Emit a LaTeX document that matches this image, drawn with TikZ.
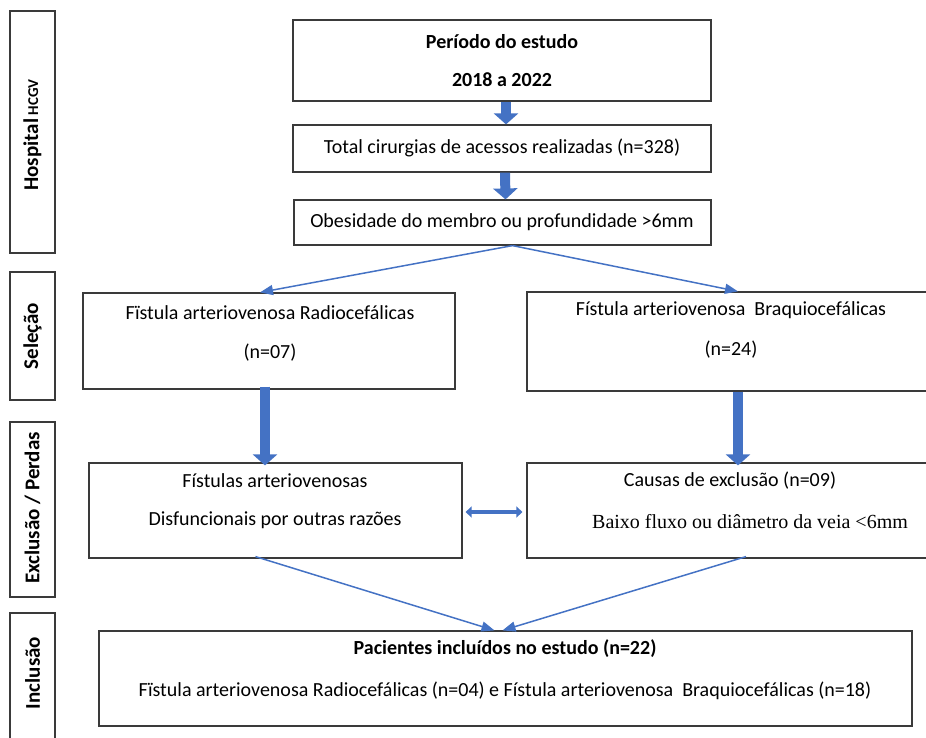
\documentclass[tikz,border=0pt]{standalone}
\usepackage{fontspec}
\setmainfont{Carlito}
\newfontfamily\serifb{Liberation Serif}
\usetikzlibrary{arrows.meta,calc}
\definecolor{abl}{HTML}{4472C4}
\definecolor{bdr}{HTML}{3A3A3A}
\tikzset{
  box/.style={draw=bdr,line width=1.2pt,inner sep=0pt,fill=white},
  side/.style={box},
  txt/.style={font=\fontsize{20}{24}\selectfont,inner sep=0pt},
  btxt/.style={font=\fontsize{20}{24}\selectfont\bfseries,inner sep=0pt},
  sidetxt/.style={font=\fontsize{21}{25}\selectfont\bfseries,rotate=90,inner sep=0pt},
  blockarr/.style={draw=abl,line width=10pt,-{Triangle[width=24pt,length=11pt]}},
  dblarr/.style={draw=abl,line width=4pt,{Triangle[width=11pt,length=6pt]}-{Triangle[width=11pt,length=6pt]}},
  thinarr/.style={draw=abl,line width=1.5pt,-{Triangle[width=10pt,length=13pt]}}
}
\begin{document}
\begin{tikzpicture}[x=1pt,y=-1pt]
\useasboundingbox (0,0) rectangle (926,737);
\clip (0,0) rectangle (926,737);
% side labels
\node[side,minimum width=45pt,minimum height=242pt] (hosp) at (32.5,132) {};
\node[side,minimum width=45pt,minimum height=128pt] (sel) at (32.5,336) {};
\node[side,minimum width=45pt,minimum height=175pt] (excl) at (32.5,509.5) {};
\node[side,minimum width=45pt,minimum height=137pt] (incl) at (32.5,681.5) {};
\node[sidetxt] (hospt) at (32.5,135) {Hospital\,{\fontsize{15}{18}\selectfont HCGV}};
\node[sidetxt] (selt) at (32.5,336) {Seleção};
\node[sidetxt] (exclt) at (32.5,508) {Exclusão / Perdas};
\node[sidetxt] (inclt) at (32.5,673) {Inclusão};
% main boxes
\node[box,minimum width=418pt,minimum height=81pt] (per) at (502,60.5) {};
\node[box,minimum width=418pt,minimum height=47pt] (tot) at (502,148.5) {};
\node[box,minimum width=417pt,minimum height=45pt] (obe) at (502.5,222.5) {};
\node[box,minimum width=372pt,minimum height=96pt] (rad) at (269,341) {};
\node[box,minimum width=408pt,minimum height=99pt] (bra) at (731,341.5) {};
\node[box,minimum width=373pt,minimum height=95pt] (fis) at (275.5,510.5) {};
\node[box,minimum width=408pt,minimum height=95pt] (cau) at (731,510.5) {};
\node[box,minimum width=813pt,minimum height=95pt] (pac) at (505.5,678.5) {};
% texts
\node[btxt] (per1) at (502,42) {Período do estudo};
\node[btxt] (per2) at (502,80) {2018 a 2022};
\node[txt] (tott) at (502,148) {Total cirurgias de acessos realizadas (n=328)};
\node[txt] (obet) at (502,222) {Obesidade do membro ou profundidade >6mm};
\node[txt] (rad1) at (270,313) {Fïstula arteriovenosa Radiocefálicas};
\node[txt] (rad2) at (270,353) {(n=07)};
\node[txt] (bra1) at (731,310) {Fístula arteriovenosa\ \ Braquiocefálicas};
\node[txt] (bra2) at (731,350) {(n=24)};
\node[txt] (fis1) at (275,481) {Fístulas arteriovenosas};
\node[txt] (fis2) at (275,520) {Disfuncionais por outras razões};
\node[txt] (cau1) at (730,481) {Causas de exclusão (n=09)};
\node[inner sep=0pt,font=\serifb\fontsize{20}{24}\selectfont] (cau2) at (750,522) {Baixo fluxo ou diâmetro da veia <6mm};
\node[btxt] (pac1) at (505,649) {Pacientes incluídos no estudo (n=22)};
\node[txt] (pac2) at (505,691) {Fïstula arteriovenosa Radiocefálicas (n=04) e Fístula arteriovenosa\ \ Braquiocefálicas (n=18)};
% block arrows
\draw[blockarr] ([xshift=4pt]per.south) -- ([xshift=4pt]tot.north);
\draw[blockarr] ([xshift=3pt]tot.south) -- ([xshift=3pt]obe.north);
\draw[blockarr] ([xshift=-4pt,yshift=3pt]rad.south) -- ([xshift=-4pt,yshift=-3pt]rad.south |- fis.north);
\draw[blockarr] ([xshift=7pt]bra.south) -- ([xshift=7pt,yshift=-3pt]bra.south |- cau.north);
\draw[dblarr] ([xshift=3pt,yshift=-1.5pt]fis.east) -- ([xshift=-4pt,yshift=-1.5pt]cau.west);
% thin arrows
\draw[thinarr] ([xshift=10pt]obe.south) -- ([xshift=-9pt]rad.north);
\draw[thinarr] ([xshift=10pt]obe.south) -- ([xshift=7pt]bra.north);
\draw[thinarr] ([xshift=-20pt,yshift=2pt]fis.south) -- ([xshift=-11pt]pac.north);
\draw[thinarr] ([xshift=15pt,yshift=2pt]cau.south) -- ([xshift=-3pt]pac.north);
\end{tikzpicture}
\end{document}
